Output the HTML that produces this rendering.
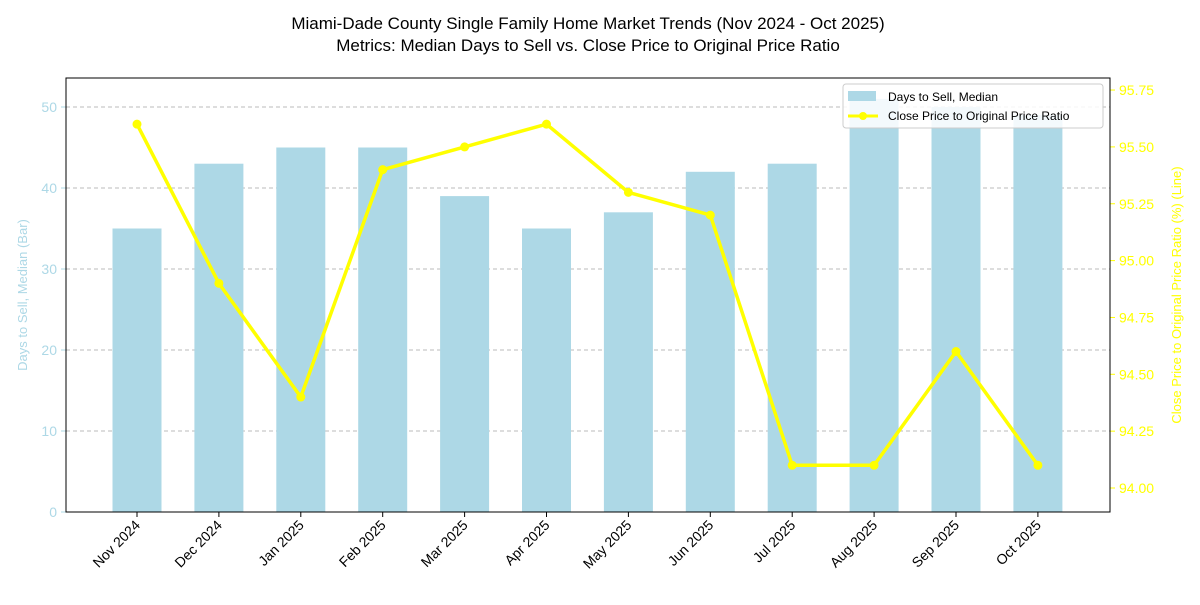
<!DOCTYPE html>
<html><head><meta charset="utf-8"><style>
body{margin:0;background:#fff;font-family:"Liberation Sans",sans-serif}
</style></head><body>
<svg id="chart" width="1200" height="600" xmlns="http://www.w3.org/2000/svg" font-family="Liberation Sans, sans-serif">
<text x="588" y="29" text-anchor="middle" font-size="17">Miami-Dade County Single Family Home Market Trends (Nov 2024 - Oct 2025)</text>
<text x="588" y="51" text-anchor="middle" font-size="17">Metrics: Median Days to Sell vs. Close Price to Original Price Ratio</text>
<g id="grid"></g><g id="bars"></g><g id="line"></g><g id="axes"></g>
<rect x="66" y="78" width="1044" height="434" fill="none" stroke="#000" stroke-width="1"/>
<text transform="translate(27,295) rotate(-90)" text-anchor="middle" font-size="13" fill="#add8e6">Days to Sell, Median (Bar)</text>
<text transform="translate(1181,295) rotate(-90)" text-anchor="middle" font-size="13" fill="#ffff00">Close Price to Original Price Ratio (%) (Line)</text>
<g>
<rect x="843" y="84" width="260" height="44" rx="3" fill="#fff" fill-opacity="0.85" stroke="#ccc"/>
<rect x="848" y="91" width="28" height="10" fill="#add8e6"/>
<text x="888" y="101" font-size="12">Days to Sell, Median</text>
<line x1="848" y1="116" x2="878" y2="116" stroke="#ffff00" stroke-width="3"/>
<circle cx="863" cy="116" r="4" fill="#ffff00"/>
<text x="888" y="120" font-size="12">Close Price to Original Price Ratio</text>
</g>
</svg>
<script>
const months=["Nov 2024","Dec 2024","Jan 2025","Feb 2025","Mar 2025","Apr 2025","May 2025","Jun 2025","Jul 2025","Aug 2025","Sep 2025","Oct 2025"];
const daysToSell=[35,43,45,45,39,35,37,42,43,51,50,49];
const priceRatio=[95.6,94.9,94.4,95.4,95.5,95.6,95.3,95.2,94.1,94.1,94.6,94.1];
const leftTicks=[0,10,20,30,40,50];
const rightTicks=[94.00,94.25,94.50,94.75,95.00,95.25,95.50,95.75];
const NS="http://www.w3.org/2000/svg";
const x0=137,dx=81.9,bw=49;
const xPos=i=>x0+i*dx;
const yL=v=>512-v*8.1;
const yR=v=>488-(v-94)*227.4;
function mk(t,a,p){const e=document.createElementNS(NS,t);for(const k in a)e.setAttribute(k,a[k]);p.appendChild(e);return e;}
const grid=document.getElementById('grid'),bars=document.getElementById('bars'),line=document.getElementById('line'),axes=document.getElementById('axes');
leftTicks.forEach(v=>{
 if(v>0){const g=mk('line',{x1:66,x2:1110,y1:yL(v),y2:yL(v),stroke:'#bbb','stroke-dasharray':'4,3'},grid);
 
 }
 mk('line',{x1:61,x2:66,y1:yL(v),y2:yL(v),stroke:'#add8e6'},axes);
 const t=mk('text',{x:57,y:yL(v)+5,'text-anchor':'end','font-size':14,fill:'#add8e6'},axes);t.textContent=v;
 
 
});
rightTicks.forEach(v=>{
 mk('line',{x1:1110,x2:1115,y1:yR(v),y2:yR(v),stroke:'#ffff00'},axes);
 const t=mk('text',{x:1119,y:yR(v)+5,'font-size':14,fill:'#ffff00'},axes);t.textContent=v.toFixed(2);
 
 
});
months.forEach((m,i)=>{
 const r=mk('rect',{x:xPos(i)-bw/2,y:yL(daysToSell[i]),width:bw,height:512-yL(daysToSell[i]),fill:'#add8e6'},bars);
 
 
 mk('line',{x1:xPos(i),x2:xPos(i),y1:512,y2:517,stroke:'#000'},axes);
 const t=mk('text',{transform:`translate(${xPos(i)+4},${526}) rotate(-45)`,'text-anchor':'end','font-size':14},axes);t.textContent=m;
 
 
});
const pts=priceRatio.map((v,i)=>xPos(i)+','+yR(v)).join(' ');
const pl=mk('polyline',{points:pts,fill:'none',stroke:'#ffff00','stroke-width':3.5,'stroke-linejoin':'round'},line);


priceRatio.forEach((v,i)=>{const c=mk('circle',{cx:xPos(i),cy:yR(v),r:4.5,fill:'#ffff00'},line);
 
 });
</script>
</body></html>
